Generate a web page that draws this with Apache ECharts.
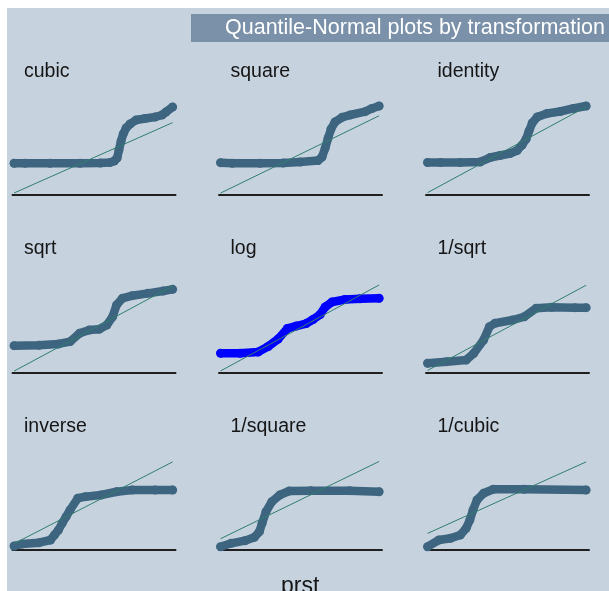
<!DOCTYPE html>
<html>
<head>
<meta charset="utf-8">
<script src="https://cdn.jsdelivr.net/npm/echarts@6/dist/echarts.min.js"></script>
<style>
  html, body { margin: 0; padding: 0; background: #ffffff; }
  #chart { width: 609px; height: 591px; }
</style>
</head>
<body>
<div id="chart"></div>
<script>
// Quantile-normal plots of prst under the ladder of powers.
// Each series: [normal quantile z, transformed value rescaled to 0..100 within its panel]
const panelTitles = ['cubic', 'square', 'identity', 'sqrt', 'log', '1/sqrt', 'inverse', '1/square', '1/cubic'];

const cubic = [[-3.00,33.6],[-2.58,33.6],[-1.64,33.6],[-0.50,33.6],[0.26,33.9],[0.63,34.5],[0.79,36.2],[0.90,39.7],[0.97,48.9],[1.05,59.2],[1.13,67.2],[1.24,74.1],[1.39,78.7],[1.62,83.3],[1.96,85.1],[2.34,86.8],[2.60,89.1],[2.75,92.5],[3.00,98.3]];
const square = [[-3.00,34.3],[-2.56,33.6],[-1.50,33.6],[-0.63,33.9],[0.01,35.1],[0.69,36.8],[0.84,40.8],[0.96,51.1],[1.07,62.6],[1.18,73.0],[1.33,81.0],[1.60,86.4],[1.90,89.1],[2.47,92.9],[2.73,96.6],[3.00,99.4]];
const identity = [[-3.00,34.5],[-2.51,34.5],[-1.77,34.5],[-1.01,35.1],[-0.63,40.2],[-0.26,42.5],[0.12,44.8],[0.39,48.3],[0.58,54.6],[0.73,61.5],[0.84,70.7],[0.96,79.9],[1.15,86.8],[1.52,90.8],[2.02,93.1],[2.51,96.6],[3.00,99.4]];
const sqrtT = [[-3.00,28.5],[-2.06,29.0],[-1.32,30.5],[-0.88,33.1],[-0.52,42.8],[-0.15,46.6],[0.22,47.4],[0.51,52.3],[0.73,61.8],[0.88,75.3],[1.10,83.0],[1.47,86.0],[2.06,88.7],[2.64,91.4],[3.00,93.3]];
const logT = [[-3.00,19.8],[-2.26,19.8],[-1.58,21.3],[-1.20,27.6],[-0.82,36.2],[-0.47,48.3],[-0.14,51.1],[0.24,54.0],[0.50,58.6],[0.77,64.4],[0.96,73.0],[1.22,78.7],[1.71,81.6],[2.28,82.4],[3.00,83.0]];
const invSqrt = [[-3.00,8.3],[-2.28,10.1],[-1.54,12.1],[-1.25,19.8],[-0.88,35.1],[-0.66,50.3],[-0.45,54.3],[0.22,58.0],[0.66,61.8],[1.11,71.5],[1.69,72.6],[2.58,72.2],[3.00,72.2]];
const inverse = [[-3.00,1.7],[-2.70,4.0],[-2.06,5.5],[-1.62,8.6],[-1.47,14.4],[-1.32,20.1],[-1.18,27.8],[-1.03,35.4],[-0.88,43.1],[-0.59,56.6],[-0.30,58.4],[0.29,60.3],[0.88,64.1],[1.47,66.1],[2.34,66.1],[3.00,66.1]];
const invSquare = [[-3.00,0.9],[-2.60,4.8],[-2.08,7.8],[-1.72,11.7],[-1.53,18.2],[-1.43,27.8],[-1.28,41.1],[-1.06,52.6],[-0.76,60.3],[-0.40,64.9],[0.41,65.3],[1.88,65.3],[3.00,64.1]];
const invCubic = [[-3.00,0.9],[-2.57,8.6],[-2.13,10.6],[-1.76,14.4],[-1.54,22.1],[-1.40,31.6],[-1.28,43.1],[-1.13,54.6],[-0.88,62.3],[-0.51,66.9],[0.66,66.9],[3.00,66.1]];

// Normal reference line of each panel, evaluated at the quantile ends
const zEnds = [-3, 3];
const refLines = [[-0.6,80.3],[-0.7,88.2],[-0.2,98.4],[-0.7,97.0],[-0.5,98.3],[0.0,98.0],[4.4,98.4],[10.1,98.9],[16.2,98.4]];

const panelData = [cubic, square, identity, sqrtT, logT, invSqrt, inverse, invSquare, invCubic];

// Panel geometry
const colLeft = [12.5, 219, 426];
const rowBase = [195, 373, 550];
const labelTop = [61.8, 239, 417];
const plotW = 163, plotH = 89.5;

const bg = '#c6d3df';
const markColor = '#3e6580';
const highlightColor = '#0000ff';
const refColor = '#2f7d6d';
const font = "'Liberation Sans', Arial, Helvetica, sans-serif";

const grids = [], xAxes = [], yAxes = [], series = [];
const titles = [{
  text: 'Quantile-Normal plots by transformation',
  left: 191, top: 14,
  padding: [0, 30, 0, 34],
  backgroundColor: '#7a91a9',
  textStyle: { color: '#ffffff', fontSize: 21.5, fontWeight: 'normal', fontFamily: font, lineHeight: 28 }
}];

panelData.forEach((pts, i) => {
  const r = Math.floor(i / 3), c = i % 3;
  grids.push({ left: colLeft[c], top: rowBase[r] - plotH, width: plotW, height: plotH });
  xAxes.push({
    gridIndex: i, type: 'value', min: -3.06, max: 3.11,
    axisLine: { show: true, onZero: false, lineStyle: { color: '#1f1f1f', width: 2 } },
    axisTick: { show: false }, axisLabel: { show: false }, splitLine: { show: false }
  });
  yAxes.push({
    gridIndex: i, type: 'value', min: -2.9, max: 100, show: false,
    splitLine: { show: false }
  });
  const col = (panelTitles[i] === 'log') ? highlightColor : markColor;
  series.push({
    type: 'line', xAxisIndex: i, yAxisIndex: i, data: pts,
    symbol: 'circle', symbolSize: 9, showAllSymbol: true,
    itemStyle: { color: col },
    lineStyle: { color: col, width: 8.5, cap: 'round', join: 'round' },
    silent: true, z: 2
  });
  series.push({
    type: 'line', xAxisIndex: i, yAxisIndex: i,
    data: zEnds.map((z, k) => [z, refLines[i][k]]),
    symbol: 'none',
    lineStyle: { color: refColor, width: 1 },
    silent: true, z: 3
  });
  titles.push({
    text: panelTitles[i], left: colLeft[c] + 11.5, top: labelTop[r], padding: 0,
    textStyle: { color: '#151515', fontSize: 19.5, fontWeight: 'normal', fontFamily: font }
  });
});

titles.push({
  text: 'prst', left: 281, top: 575.6, padding: 0,
  textStyle: { color: '#151515', fontSize: 23, fontWeight: 'normal', fontFamily: font }
});

const chart = echarts.init(document.getElementById('chart'), null, { renderer: 'canvas' });
chart.setOption({
  animation: false,
  backgroundColor: 'transparent',
  graphic: [{
    type: 'rect', left: 7, top: 8, z: -10, silent: true,
    shape: { width: 602, height: 583 },
    style: { fill: bg }
  }],
  title: titles,
  grid: grids,
  xAxis: xAxes,
  yAxis: yAxes,
  series: series
});
</script>
</body>
</html>
